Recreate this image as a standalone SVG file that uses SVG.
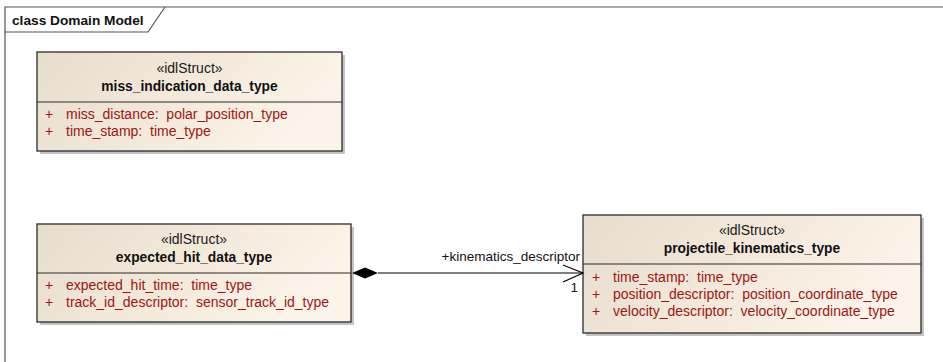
<svg xmlns="http://www.w3.org/2000/svg" width="943" height="362" viewBox="0 0 943 362">
<defs>
<linearGradient id="fill" x1="0" y1="0" x2="1" y2="0.3">
<stop offset="0" stop-color="#e7ddcd"/>
<stop offset="1" stop-color="#fcf4e8"/>
</linearGradient>
</defs>
<style>
.frame{fill:none;stroke:#555;stroke-width:1.2}
.shadow{fill:#c4c4c4}
.box{fill:url(#fill);stroke:#2b2b2b;stroke-width:1.3}
.div{stroke:#2b2b2b;stroke-width:1.2}
.st{font-family:"Liberation Sans",Arial,sans-serif;font-size:14px;fill:#1a1a1a;text-anchor:middle}
.nm{font-family:"Liberation Sans",Arial,sans-serif;font-size:13.8px;font-weight:bold;fill:#111;text-anchor:middle}
.at{font-family:"Liberation Sans",Arial,sans-serif;font-size:14px;fill:#a01515;white-space:pre}
.lbl{font-family:"Liberation Sans",Arial,sans-serif;font-size:13.5px;fill:#111}
.title{font-family:"Liberation Sans",Arial,sans-serif;font-size:13.7px;font-weight:bold;fill:#111}
.conn{stroke:#000;stroke-width:1.2;fill:none}
</style>
<rect width="943" height="362" fill="#fff"/>
<g id="frame">
<path class="frame" d="M5,362 V7 H943"/>
<path class="frame" d="M5,32 H148 L165,7"/>
<text class="title" x="12" y="25">class Domain Model</text>
</g>
<g id="miss_indication_data_type">
<rect class="shadow" x="40" y="55" width="305" height="99"/>
<rect class="box" x="37" y="52" width="305" height="99"/>
<line class="div" x1="37" y1="102" x2="342" y2="102"/>
<text class="st" x="189.5" y="73">«idlStruct»</text>
<text class="nm" x="189.5" y="91">miss_indication_data_type</text>
<text class="at" x="45" y="119">+</text>
<text class="at" x="66" y="119" xml:space="preserve">miss_distance:  polar_position_type</text>
<text class="at" x="45" y="136">+</text>
<text class="at" x="66" y="136" xml:space="preserve">time_stamp:  time_type</text>
</g>
<g id="expected_hit_data_type">
<rect class="shadow" x="40" y="227" width="314" height="98"/>
<rect class="box" x="37" y="224" width="314" height="98"/>
<line class="div" x1="37" y1="273" x2="351" y2="273"/>
<text class="st" x="194" y="244">«idlStruct»</text>
<text class="nm" x="194" y="262">expected_hit_data_type</text>
<text class="at" x="45" y="290">+</text>
<text class="at" x="66" y="290" xml:space="preserve">expected_hit_time:  time_type</text>
<text class="at" x="45" y="307">+</text>
<text class="at" x="66" y="307" xml:space="preserve">track_id_descriptor:  sensor_track_id_type</text>
</g>
<g id="projectile_kinematics_type">
<rect class="shadow" x="586" y="218" width="338" height="118"/>
<rect class="box" x="583" y="215" width="338" height="118"/>
<line class="div" x1="583" y1="264" x2="921" y2="264"/>
<text class="st" x="752" y="235">«idlStruct»</text>
<text class="nm" x="752" y="253">projectile_kinematics_type</text>
<text class="at" x="592" y="282">+</text>
<text class="at" x="613" y="282" xml:space="preserve">time_stamp:  time_type</text>
<text class="at" x="592" y="299">+</text>
<text class="at" x="613" y="299" xml:space="preserve">position_descriptor:  position_coordinate_type</text>
<text class="at" x="592" y="316">+</text>
<text class="at" x="613" y="316" xml:space="preserve">velocity_descriptor:  velocity_coordinate_type</text>
</g>
<g id="connectors">
<line class="conn" x1="378" y1="273" x2="583" y2="273"/>
<polygon points="352,273 365,267.5 378,273 365,278.5" fill="#000"/>
<polyline class="conn" points="563,265 583,273 563,282"/>
<text class="lbl" x="580" y="261" text-anchor="end">+kinematics_descriptor</text>
<text class="lbl" x="578" y="292" text-anchor="end">1</text>
</g>
</svg>
